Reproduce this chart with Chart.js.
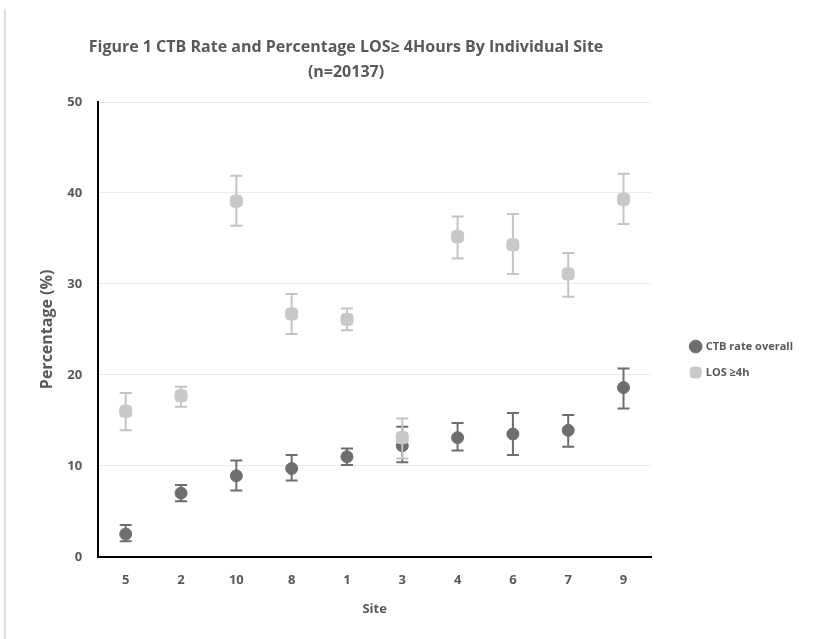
<!DOCTYPE html>
<html>
<head>
<meta charset="utf-8">
<script src="https://cdn.jsdelivr.net/npm/chart.js@4"></script>
<style>
  html, body { margin: 0; padding: 0; background: #fff; }
  #wrap { position: relative; width: 820px; height: 639px; }
  #edge { position: absolute; left: 4px; top: 9px; bottom: 0; border-left: 2px solid #dedede; }
</style>
</head>
<body>
<div id="wrap">
  <div id="edge"></div>
  <canvas id="chart" width="820" height="639"></canvas>
</div>
<script>
// sites in the order shown on the x axis
const sites = ['5', '2', '10', '8', '1', '3', '4', '6', '7', '9'];

// CTB rate overall (%) with 95% CI
const ctbRate = [2.5, 7.0, 8.9, 9.7, 11.0, 12.2, 13.1, 13.5, 13.9, 18.6];
const ctbLow  = [1.7, 6.1, 7.3, 8.4, 10.1, 10.4, 11.7, 11.2, 12.1, 16.3];
const ctbHigh = [3.5, 7.9, 10.6, 11.2, 11.9, 14.3, 14.7, 15.8, 15.6, 20.7];

// LOS >= 4h (%) with 95% CI
const losRate = [16.0, 17.7, 39.1, 26.7, 26.1, 13.1, 35.2, 34.3, 31.1, 39.3];
const losLow  = [13.9, 16.5, 36.4, 24.5, 24.9, 10.8, 32.8, 31.1, 28.6, 36.6];
const losHigh = [18.0, 18.7, 41.9, 28.9, 27.3, 15.2, 37.4, 37.7, 33.4, 42.1];

const yMax = 50;
const yStep = 10;

const titleLines = ['Figure 1 CTB Rate and Percentage LOS\u2265 4Hours By Individual Site', '(n=20137)'];

const FONT = '"Open Sans", sans-serif';
const TEXT = '#595959';

// whisker bars from the low/high arrays
const errorBars = {
    id: 'errorBars',
    beforeDatasetDraw(chart, args) {
        const ds = chart.data.datasets[args.index];
        if (!ds.errLow) return;
        const ctx = chart.ctx;
        const xs = chart.scales.x;
        const ys = chart.scales.y;
        ctx.save();
        ctx.strokeStyle = ds.errColor;
        ctx.lineWidth = 2;
        ds.data.forEach((v, i) => {
            const px = xs.getPixelForValue(i);
            const top = ys.getPixelForValue(ds.errHigh[i]);
            const bot = ys.getPixelForValue(ds.errLow[i]);
            ctx.beginPath();
            ctx.moveTo(px, top);
            ctx.lineTo(px, bot);
            ctx.moveTo(px - 6, top);
            ctx.lineTo(px + 6, top);
            ctx.moveTo(px - 6, bot);
            ctx.lineTo(px + 6, bot);
            ctx.stroke();
        });
        ctx.restore();
    }
};

// two line title, centred like the original figure
const figTitle = {
    id: 'figTitle',
    afterDraw(chart) {
        const ctx = chart.ctx;
        ctx.save();
        ctx.font = 'bold 16px ' + FONT;
        ctx.fillStyle = TEXT;
        ctx.textAlign = 'center';
        ctx.textBaseline = 'middle';
        titleLines.forEach((line, i) => ctx.fillText(line, 346, 47 + i * 25));
        ctx.restore();
    }
};

// the legend sits a little away from the plot
const legendGap = {
    id: 'legendGap',
    afterLayout(chart) {
        chart.legend.left += 25;
        chart.legend.right += 25;
    }
};

new Chart(document.getElementById('chart'), {
    type: 'line',
    data: {
        labels: sites,
        datasets: [{
            label: 'CTB rate overall',
            data: ctbRate,
            errLow: ctbLow,
            errHigh: ctbHigh,
            errColor: '#6e6e6e',
            showLine: false,
            pointStyle: 'circle',
            pointRadius: 6,
            pointBackgroundColor: '#6e6e6e',
            pointBorderColor: '#6e6e6e',
            backgroundColor: '#6e6e6e',
            borderColor: '#6e6e6e',
            order: 2
        }, {
            label: 'LOS \u22654h',
            data: losRate,
            errLow: losLow,
            errHigh: losHigh,
            errColor: '#c4c4c4',
            showLine: false,
            pointStyle: 'rectRounded',
            pointRadius: 7,
            pointBackgroundColor: '#c8c8c8',
            pointBorderColor: '#c8c8c8',
            backgroundColor: '#c8c8c8',
            borderColor: '#c8c8c8',
            order: 1
        }]
    },
    options: {
        responsive: false,
        animation: false,
        layout: {
            padding: { top: 102, bottom: 22, left: 38, right: 42 }
        },
        plugins: {
            title: { display: false },
            tooltip: { enabled: false },
            legend: {
                position: 'right',
                labels: {
                    usePointStyle: true,
                    boxWidth: 9,
                    boxHeight: 9,
                    padding: 15,
                    color: TEXT,
                    font: { family: FONT, size: 11, weight: 'bold' },
                    sort: (a, b) => a.datasetIndex - b.datasetIndex
                }
            }
        },
        scales: {
            x: {
                offset: true,
                grid: { display: false },
                border: { display: true, color: '#000', width: 2 },
                ticks: { color: TEXT, padding: 8, font: { family: FONT, size: 13, weight: 'bold' } },
                title: { display: true, text: 'Site', color: TEXT, padding: { top: 5, bottom: 0 },
                    font: { family: FONT, size: 13, weight: 'bold' } }
            },
            y: {
                min: 0,
                max: yMax,
                ticks: { stepSize: yStep, color: TEXT, padding: 16, font: { family: FONT, size: 13, weight: 'bold' } },
                grid: { color: '#ebebeb', lineWidth: 1, drawTicks: false },
                border: { display: true, color: '#000', width: 2 },
                title: { display: true, text: 'Percentage (%)', color: TEXT, padding: { top: 0, bottom: -6 },
                    font: { family: FONT, size: 16, weight: 'bold' } }
            }
        }
    },
    plugins: [errorBars, figTitle, legendGap]
});
</script>
</body>
</html>
